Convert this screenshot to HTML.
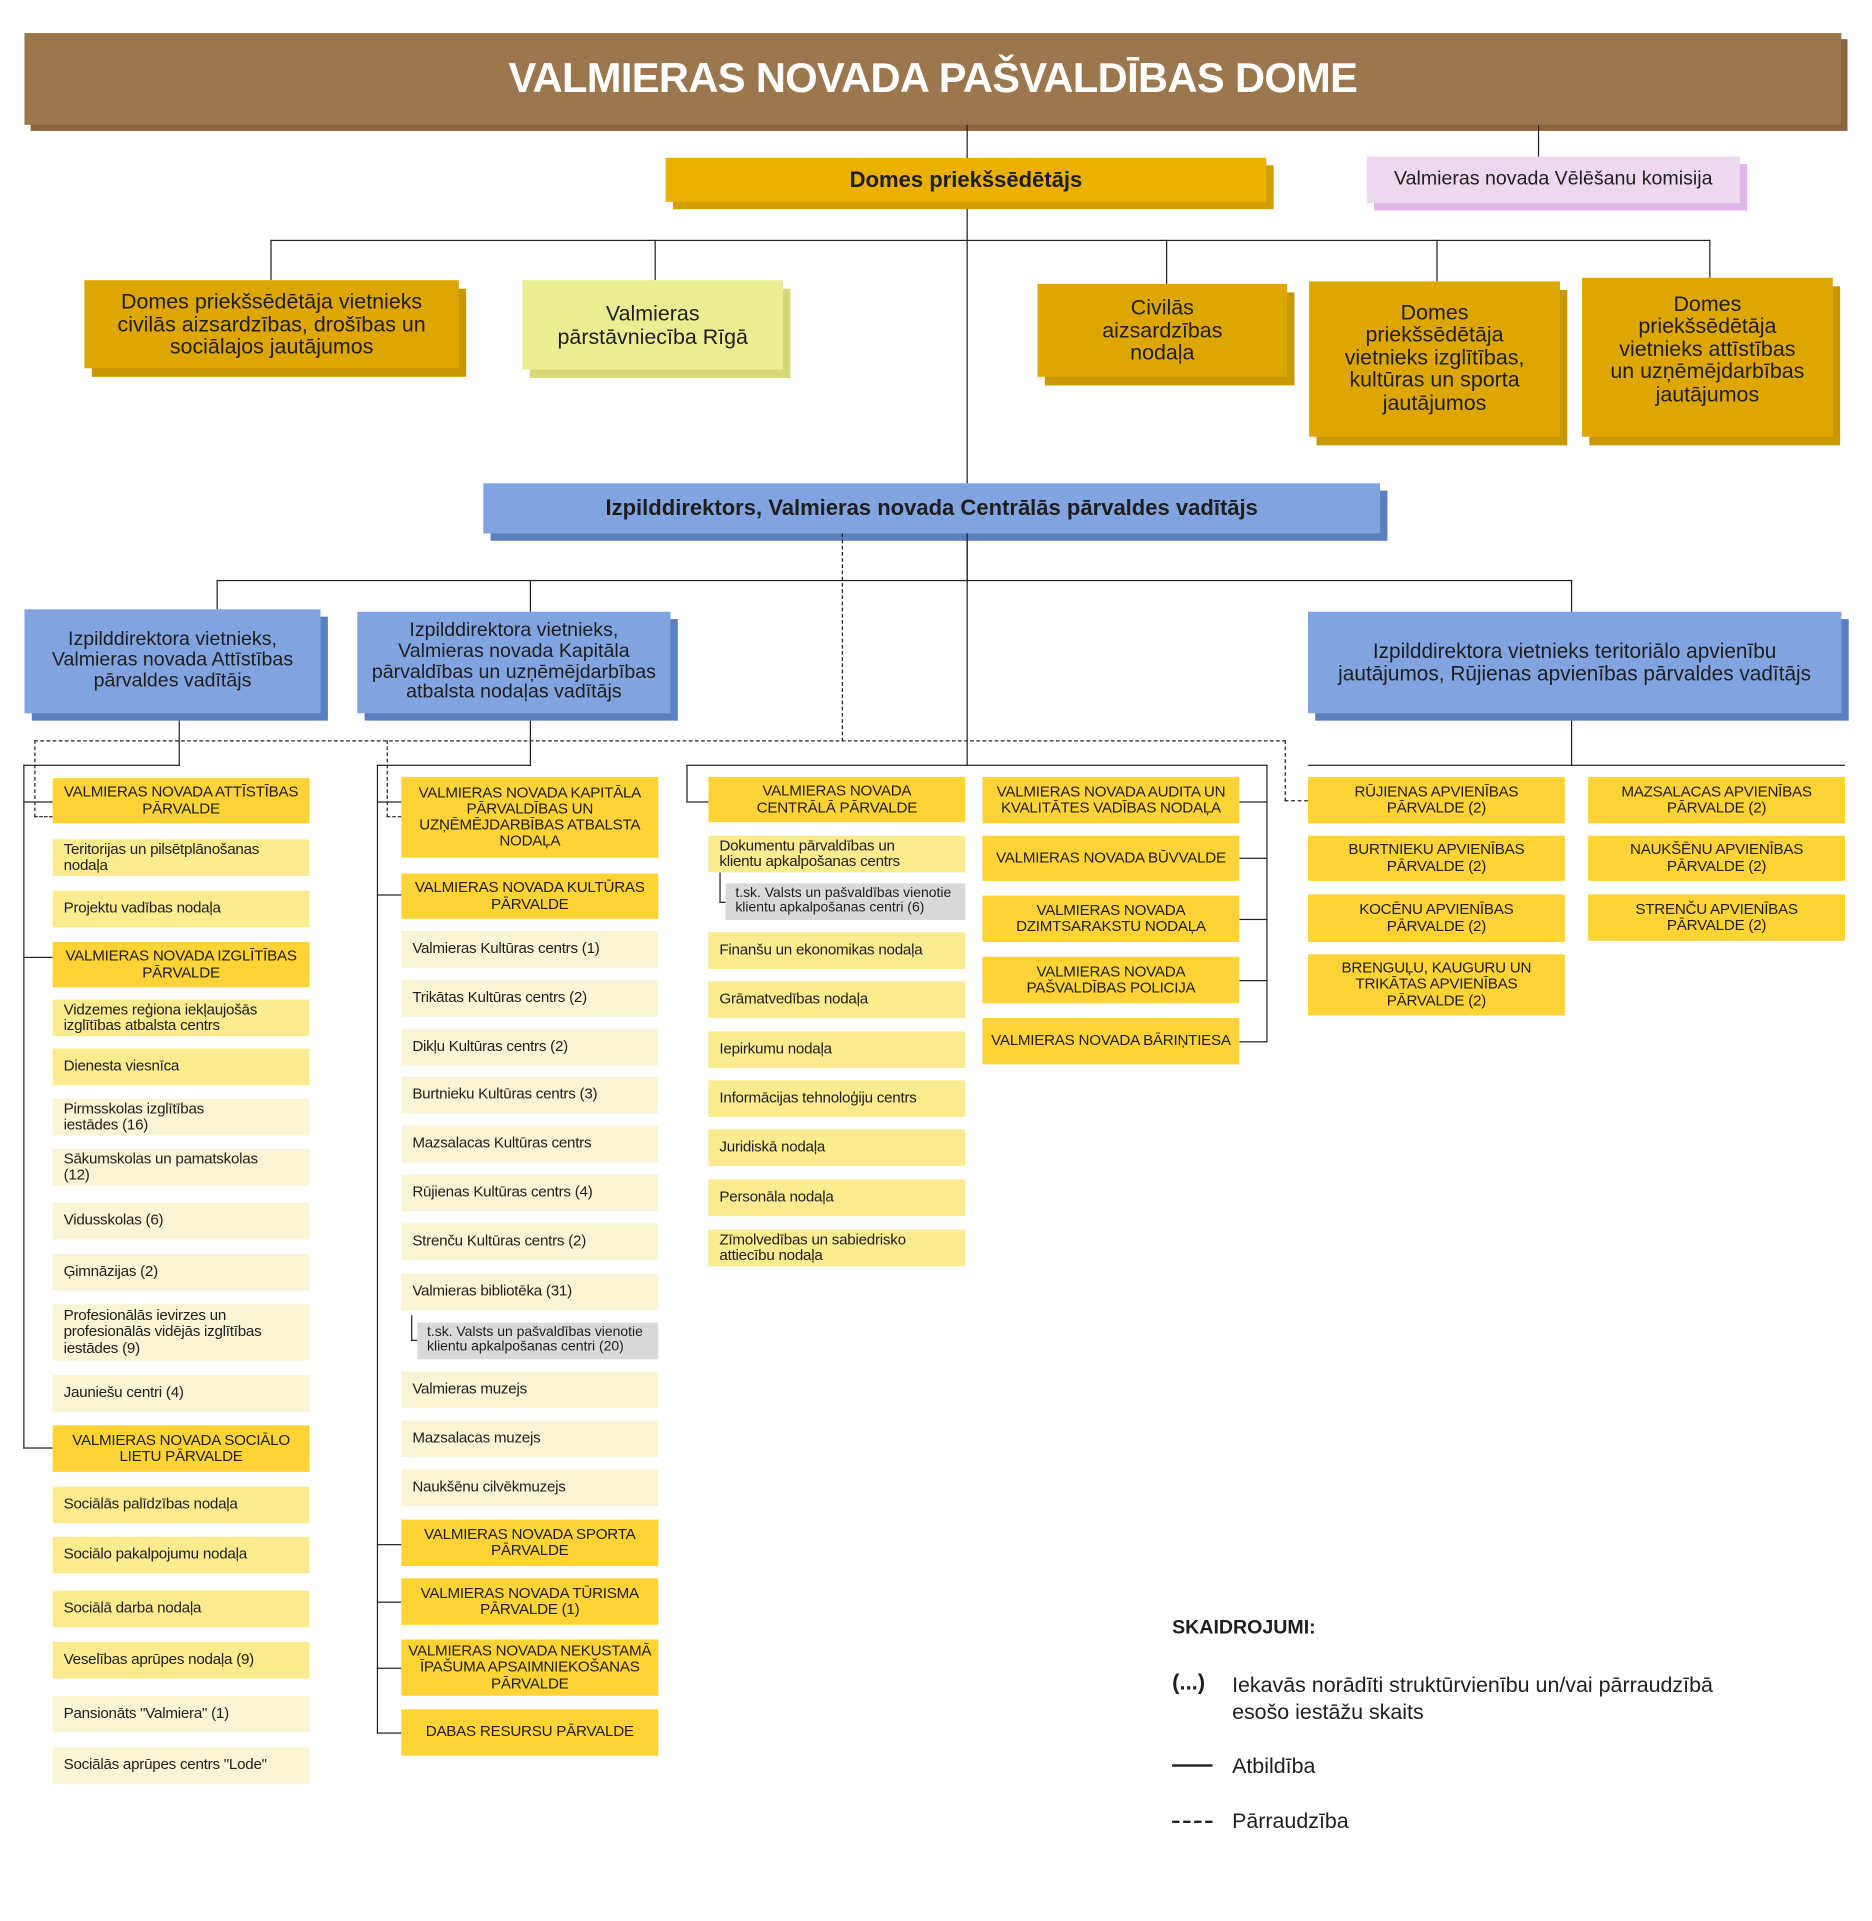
<!DOCTYPE html>
<html><head><meta charset="utf-8">
<style>
*{margin:0;padding:0;box-sizing:border-box}
html,body{width:1872px;height:1920px;overflow:hidden;background:#fff}
#w{position:absolute;left:0;top:0;width:1530px;height:1570px;transform:scale(1.2235);transform-origin:0 0;font-family:"Liberation Sans",sans-serif;color:#1e1e1e}
.b{position:absolute;display:flex;align-items:center;justify-content:center;text-align:center;line-height:1.05}
.s{font-size:12.4px;letter-spacing:-0.2px}
.h{background:#fdd335}
.m{background:#faeb8f;justify-content:flex-start;text-align:left;padding-left:9px}
.l{background:#f9f4d3;justify-content:flex-start;text-align:left;padding-left:9px}
.g{background:#d9d9d9;justify-content:flex-start;text-align:left;padding-left:8px;font-size:11.4px}
.v{position:absolute;border-left:1.8px solid #222;width:0}
.z{position:absolute;border-top:1.8px solid #222;height:0}
.vd{position:absolute;border-left:1.8px dashed #222;width:0}
.zd{position:absolute;border-top:1.8px dashed #222;height:0}
.big{font-size:17.5px;line-height:1.05}
</style></head><body><div id="w">
<!-- header -->
<div class="b" style="left:25px;top:32px;width:1485px;height:75px;background:#8a6540"></div>
<div class="b" style="left:20px;top:27px;width:1485px;height:75px;background:#9c774d;color:#fff;font-weight:bold;font-size:34px;letter-spacing:-0.5px">VALMIERAS NOVADA PAŠVALDĪBAS DOME</div>
<div class="v" style="left:790px;top:102px;height:373px"></div>
<div class="v" style="left:1257px;top:102px;height:27px"></div>
<div class="b" style="left:550px;top:135px;width:491px;height:36px;background:#d29e00"></div>
<div class="b" style="left:544px;top:129px;width:491px;height:36px;background:#ebb000;font-weight:bold;font-size:18px">Domes priekšsēdētājs</div>
<div class="b" style="left:1123px;top:134px;width:305px;height:38px;background:#e2b6ea"></div>
<div class="b" style="left:1117px;top:128px;width:305px;height:38px;background:#ecd9ee;font-size:16px">Valmieras novada Vēlēšanu komisija</div>
<div class="z" style="left:221px;top:196px;width:1177px"></div>
<div class="v" style="left:221px;top:196px;height:33px"></div>
<div class="v" style="left:535px;top:196px;height:33px"></div>
<div class="v" style="left:953px;top:196px;height:36px"></div>
<div class="v" style="left:1174px;top:196px;height:34px"></div>
<div class="v" style="left:1397px;top:196px;height:31px"></div>
<div class="b" style="left:75px;top:236px;width:306px;height:72px;background:#c99700"></div>
<div class="b big" style="left:69px;top:229px;width:306px;height:72px;background:#dea600">Domes priekšsēdētāja vietnieks<br>civilās aizsardzības, drošības un<br>sociālajos jautājumos</div>
<div class="b" style="left:433px;top:236px;width:213px;height:73px;background:#d8d878"></div>
<div class="b big" style="left:427px;top:229px;width:213px;height:73px;background:#eaee93">Valmieras<br>pārstāvniecība Rīgā</div>
<div class="b" style="left:854px;top:239px;width:204px;height:76px;background:#c99700"></div>
<div class="b big" style="left:848px;top:232px;width:204px;height:76px;background:#dea600">Civilās<br>aizsardzības<br>nodaļa</div>
<div class="b" style="left:1076px;top:237px;width:205px;height:127px;background:#c99700"></div>
<div class="b big" style="left:1070px;top:230px;width:205px;height:127px;background:#dea600;align-items:flex-start;padding-top:16px">Domes<br>priekšsēdētāja<br>vietnieks izglītības,<br>kultūras un sporta<br>jautājumos</div>
<div class="b" style="left:1299px;top:234px;width:205px;height:130px;background:#c99700"></div>
<div class="b big" style="left:1293px;top:227px;width:205px;height:130px;background:#dea600;align-items:flex-start;padding-top:12px">Domes<br>priekšsēdētāja<br>vietnieks attīstības<br>un uzņēmējdarbības<br>jautājumos</div>
<!-- exec -->
<div class="b" style="left:401px;top:401px;width:733px;height:41px;background:#5a7fbf"></div>
<div class="b" style="left:395px;top:395px;width:733px;height:41px;background:#81a4e0;font-weight:bold;font-size:18px">Izpilddirektors, Valmieras novada Centrālās pārvaldes vadītājs</div>
<div class="v" style="left:790px;top:436px;height:190px"></div>
<div class="z" style="left:177px;top:474px;width:1108px"></div>
<div class="v" style="left:177px;top:474px;height:24px"></div>
<div class="v" style="left:433px;top:474px;height:26px"></div>
<div class="v" style="left:1284px;top:474px;height:26px"></div>
<div class="vd" style="left:688px;top:436px;height:170px"></div>
<div class="b" style="left:26px;top:504px;width:242px;height:85px;background:#5a7fbf"></div>
<div class="b" style="left:20px;top:498px;width:242px;height:85px;background:#81a4e0;font-size:16px;line-height:1.05">Izpilddirektora vietnieks,<br>Valmieras novada Attīstības<br>pārvaldes vadītājs</div>
<div class="b" style="left:298px;top:506px;width:256px;height:83px;background:#5a7fbf"></div>
<div class="b" style="left:292px;top:500px;width:256px;height:83px;background:#81a4e0;font-size:16px;line-height:1.05">Izpilddirektora vietnieks,<br>Valmieras novada Kapitāla<br>pārvaldības un uzņēmējdarbības<br>atbalsta nodaļas vadītājs</div>
<div class="b" style="left:1075px;top:506px;width:436px;height:83px;background:#5a7fbf"></div>
<div class="b" style="left:1069px;top:500px;width:436px;height:83px;background:#81a4e0;font-size:17px;line-height:1.05">Izpilddirektora vietnieks teritoriālo apvienību<br>jautājumos, Rūjienas apvienības pārvaldes vadītājs</div>
<!-- connectors lower -->
<div class="v" style="left:146px;top:589px;height:37px"></div>
<div class="z" style="left:19px;top:625px;width:128px"></div>
<div class="v" style="left:19px;top:625px;height:559px"></div>
<div class="z" style="left:19px;top:655px;width:24px"></div>
<div class="z" style="left:19px;top:782px;width:24px"></div>
<div class="z" style="left:19px;top:1183px;width:24px"></div>
<div class="zd" style="left:28px;top:605px;width:1023px"></div>
<div class="vd" style="left:28px;top:605px;height:63px"></div>
<div class="zd" style="left:28px;top:667px;width:15px"></div>
<div class="vd" style="left:316px;top:605px;height:63px"></div>
<div class="zd" style="left:316px;top:667px;width:12px"></div>
<div class="vd" style="left:1050px;top:605px;height:50px"></div>
<div class="zd" style="left:1050px;top:654px;width:19px"></div>
<div class="v" style="left:433px;top:589px;height:37px"></div>
<div class="z" style="left:308px;top:625px;width:126px"></div>
<div class="v" style="left:308px;top:625px;height:792px"></div>
<div class="z" style="left:308px;top:655px;width:20px"></div>
<div class="z" style="left:308px;top:731px;width:20px"></div>
<div class="z" style="left:308px;top:1262px;width:20px"></div>
<div class="z" style="left:308px;top:1309px;width:20px"></div>
<div class="z" style="left:308px;top:1363px;width:20px"></div>
<div class="z" style="left:308px;top:1416px;width:20px"></div>
<div class="z" style="left:561px;top:625px;width:475px"></div>
<div class="v" style="left:561px;top:625px;height:31px"></div>
<div class="z" style="left:561px;top:655px;width:18px"></div>
<div class="v" style="left:1035px;top:625px;height:227px"></div>
<div class="z" style="left:1013px;top:655px;width:23px"></div>
<div class="z" style="left:1013px;top:701px;width:23px"></div>
<div class="z" style="left:1013px;top:751px;width:23px"></div>
<div class="z" style="left:1013px;top:801px;width:23px"></div>
<div class="z" style="left:1013px;top:851px;width:23px"></div>
<div class="v" style="left:1284px;top:589px;height:37px"></div>
<div class="z" style="left:1069px;top:625px;width:439px"></div>
<div class="v" style="left:336px;top:1075px;height:21px"></div>
<div class="z" style="left:336px;top:1095px;width:6px"></div>
<div class="v" style="left:588px;top:713px;height:25px"></div>
<div class="z" style="left:588px;top:737px;width:6px"></div>
<!-- column A -->
<div class="b s h" style="left:43px;top:636px;width:210px;height:37px">VALMIERAS NOVADA ATTĪSTĪBAS<br>PĀRVALDE</div>
<div class="b s m" style="left:43px;top:686px;width:210px;height:30px">Teritorijas un pilsētplānošanas<br>nodaļa</div>
<div class="b s m" style="left:43px;top:728px;width:210px;height:30px">Projektu vadības nodaļa</div>
<div class="b s h" style="left:43px;top:770px;width:210px;height:37px">VALMIERAS NOVADA IZGLĪTĪBAS<br>PĀRVALDE</div>
<div class="b s m" style="left:43px;top:817px;width:210px;height:30px">Vidzemes reģiona iekļaujošās<br>izglītības atbalsta centrs</div>
<div class="b s m" style="left:43px;top:857px;width:210px;height:30px">Dienesta viesnīca</div>
<div class="b s l" style="left:43px;top:898px;width:210px;height:30px">Pirmsskolas izglītības<br>iestādes (16)</div>
<div class="b s l" style="left:43px;top:939px;width:210px;height:30px">Sākumskolas un pamatskolas<br>(12)</div>
<div class="b s l" style="left:43px;top:983px;width:210px;height:30px">Vidusskolas (6)</div>
<div class="b s l" style="left:43px;top:1025px;width:210px;height:30px">Ģimnāzijas (2)</div>
<div class="b s l" style="left:43px;top:1066px;width:210px;height:46px">Profesionālās ievirzes un<br>profesionālās vidējās izglītības<br>iestādes (9)</div>
<div class="b s l" style="left:43px;top:1124px;width:210px;height:30px">Jauniešu centri (4)</div>
<div class="b s h" style="left:43px;top:1165px;width:210px;height:38px">VALMIERAS NOVADA SOCIĀLO<br>LIETU PĀRVALDE</div>
<div class="b s m" style="left:43px;top:1215px;width:210px;height:30px">Sociālās palīdzības nodaļa</div>
<div class="b s m" style="left:43px;top:1256px;width:210px;height:30px">Sociālo pakalpojumu nodaļa</div>
<div class="b s m" style="left:43px;top:1300px;width:210px;height:30px">Sociālā darba nodaļa</div>
<div class="b s m" style="left:43px;top:1342px;width:210px;height:30px">Veselības aprūpes nodaļa (9)</div>
<div class="b s l" style="left:43px;top:1386px;width:210px;height:30px">Pansionāts "Valmiera" (1)</div>
<div class="b s l" style="left:43px;top:1428px;width:210px;height:30px">Sociālās aprūpes centrs "Lode"</div>
<!-- column B -->
<div class="b s h" style="left:328px;top:635px;width:210px;height:66px">VALMIERAS NOVADA KAPITĀLA<br>PĀRVALDĪBAS UN<br>UZŅĒMĒJDARBĪBAS ATBALSTA<br>NODAĻA</div>
<div class="b s h" style="left:328px;top:714px;width:210px;height:37px">VALMIERAS NOVADA KULTŪRAS<br>PĀRVALDE</div>
<div class="b s l" style="left:328px;top:761px;width:210px;height:30px">Valmieras Kultūras centrs (1)</div>
<div class="b s l" style="left:328px;top:801px;width:210px;height:30px">Trikātas Kultūras centrs (2)</div>
<div class="b s l" style="left:328px;top:841px;width:210px;height:30px">Dikļu Kultūras centrs (2)</div>
<div class="b s l" style="left:328px;top:880px;width:210px;height:30px">Burtnieku Kultūras centrs (3)</div>
<div class="b s l" style="left:328px;top:920px;width:210px;height:30px">Mazsalacas Kultūras centrs</div>
<div class="b s l" style="left:328px;top:960px;width:210px;height:30px">Rūjienas Kultūras centrs (4)</div>
<div class="b s l" style="left:328px;top:1000px;width:210px;height:30px">Strenču Kultūras centrs (2)</div>
<div class="b s l" style="left:328px;top:1041px;width:210px;height:30px">Valmieras bibliotēka (31)</div>
<div class="b g" style="left:341px;top:1081px;width:197px;height:30px">t.sk. Valsts un pašvaldības vienotie<br>klientu apkalpošanas centri (20)</div>
<div class="b s l" style="left:328px;top:1121px;width:210px;height:30px">Valmieras muzejs</div>
<div class="b s l" style="left:328px;top:1161px;width:210px;height:30px">Mazsalacas muzejs</div>
<div class="b s l" style="left:328px;top:1201px;width:210px;height:30px">Naukšēnu cilvēkmuzejs</div>
<div class="b s h" style="left:328px;top:1242px;width:210px;height:38px">VALMIERAS NOVADA SPORTA<br>PĀRVALDE</div>
<div class="b s h" style="left:328px;top:1290px;width:210px;height:38px">VALMIERAS NOVADA TŪRISMA<br>PĀRVALDE (1)</div>
<div class="b s h" style="left:328px;top:1340px;width:210px;height:46px">VALMIERAS NOVADA NEKUSTAMĀ<br>ĪPAŠUMA APSAIMNIEKOŠANAS<br>PĀRVALDE</div>
<div class="b s h" style="left:328px;top:1397px;width:210px;height:38px">DABAS RESURSU PĀRVALDE</div>
<!-- column C -->
<div class="b s h" style="left:579px;top:635px;width:210px;height:37px">VALMIERAS NOVADA<br>CENTRĀLĀ PĀRVALDE</div>
<div class="b s m" style="left:579px;top:683px;width:210px;height:30px">Dokumentu pārvaldības un<br>klientu apkalpošanas centrs</div>
<div class="b g" style="left:593px;top:722px;width:196px;height:30px">t.sk. Valsts un pašvaldības vienotie<br>klientu apkalpošanas centri (6)</div>
<div class="b s m" style="left:579px;top:762px;width:210px;height:30px">Finanšu un ekonomikas nodaļa</div>
<div class="b s m" style="left:579px;top:802px;width:210px;height:30px">Grāmatvedības nodaļa</div>
<div class="b s m" style="left:579px;top:843px;width:210px;height:30px">Iepirkumu nodaļa</div>
<div class="b s m" style="left:579px;top:883px;width:210px;height:30px">Informācijas tehnoloģiju centrs</div>
<div class="b s m" style="left:579px;top:923px;width:210px;height:30px">Juridiskā nodaļa</div>
<div class="b s m" style="left:579px;top:964px;width:210px;height:30px">Personāla nodaļa</div>
<div class="b s m" style="left:579px;top:1005px;width:210px;height:30px">Zīmolvedības un sabiedrisko<br>attiecību nodaļa</div>
<!-- column D -->
<div class="b s h" style="left:803px;top:635px;width:210px;height:38px">VALMIERAS NOVADA AUDITA UN<br>KVALITĀTES VADĪBAS NODAĻA</div>
<div class="b s h" style="left:803px;top:683px;width:210px;height:37px">VALMIERAS NOVADA BŪVVALDE</div>
<div class="b s h" style="left:803px;top:732px;width:210px;height:38px">VALMIERAS NOVADA<br>DZIMTSARAKSTU NODAĻA</div>
<div class="b s h" style="left:803px;top:782px;width:210px;height:38px">VALMIERAS NOVADA<br>PAŠVALDĪBAS POLICIJA</div>
<div class="b s h" style="left:803px;top:832px;width:210px;height:38px">VALMIERAS NOVADA BĀRIŅTIESA</div>
<!-- column E/F -->
<div class="b s h" style="left:1069px;top:635px;width:210px;height:38px">RŪJIENAS APVIENĪBAS<br>PĀRVALDE (2)</div>
<div class="b s h" style="left:1069px;top:683px;width:210px;height:37px">BURTNIEKU APVIENĪBAS<br>PĀRVALDE (2)</div>
<div class="b s h" style="left:1069px;top:731px;width:210px;height:39px">KOCĒNU APVIENĪBAS<br>PĀRVALDE (2)</div>
<div class="b s h" style="left:1069px;top:780px;width:210px;height:50px">BRENGUĻU, KAUGURU UN<br>TRIKĀTAS APVIENĪBAS<br>PĀRVALDE (2)</div>
<div class="b s h" style="left:1298px;top:635px;width:210px;height:38px">MAZSALACAS APVIENĪBAS<br>PĀRVALDE (2)</div>
<div class="b s h" style="left:1298px;top:683px;width:210px;height:37px">NAUKŠĒNU APVIENĪBAS<br>PĀRVALDE (2)</div>
<div class="b s h" style="left:1298px;top:731px;width:210px;height:38px">STRENČU APVIENĪBAS<br>PĀRVALDE (2)</div>
<!-- legend -->
<div style="position:absolute;left:958px;top:1322px;font-weight:bold;font-size:16px">SKAIDROJUMI:</div>
<div style="position:absolute;left:958px;top:1365px;font-weight:bold;font-size:18px">(...)</div>
<div style="position:absolute;left:1007px;top:1366px;font-size:17.5px;line-height:22px">Iekavās norādīti struktūrvienību un/vai pārraudzībā<br>esošo iestāžu skaits</div>
<div class="z" style="left:958px;top:1442px;width:33px;border-top-width:2px"></div>
<div style="position:absolute;left:1007px;top:1433px;font-size:17.5px">Atbildība</div>
<div class="zd" style="left:958px;top:1488px;width:33px;border-top-width:2px"></div>
<div style="position:absolute;left:1007px;top:1478px;font-size:17.5px">Pārraudzība</div>
</div></body></html>
